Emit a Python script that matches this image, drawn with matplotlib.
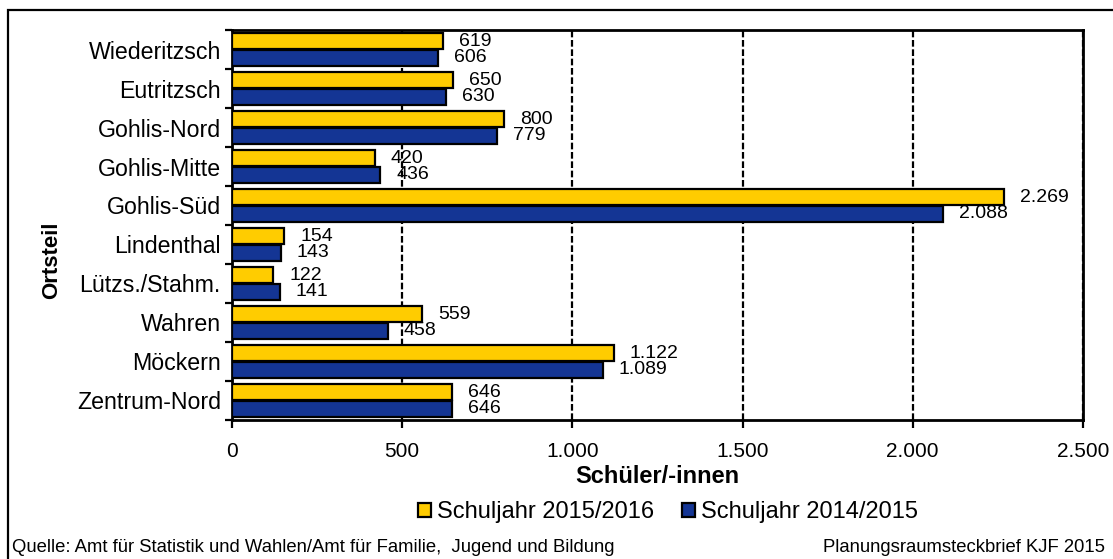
import matplotlib
matplotlib.use("Agg")
import matplotlib.pyplot as plt
from matplotlib.patches import Patch, Rectangle

plt.rcParams["font.family"] = ["Liberation Sans", "DejaVu Sans"]

ORTSTEILE = [
    "Wiederitzsch", "Eutritzsch", "Gohlis-Nord", "Gohlis-Mitte", "Gohlis-Süd",
    "Lindenthal", "Lützs./Stahm.", "Wahren", "Möckern", "Zentrum-Nord",
]
SJ_2015_16 = [619, 650, 800, 420, 2269, 154, 122, 559, 1122, 646]
SJ_2014_15 = [606, 630, 779, 436, 2088, 143, 141, 458, 1089, 646]
X_TICKS = [0, 500, 1000, 1500, 2000, 2500]

YELLOW = "#FFCC00"
BLUE = "#143594"


def de_num(v):
    return f"{v:,}".replace(",", ".")


fig = plt.figure(figsize=(11.13, 5.59), dpi=100)
ax = fig.add_axes([0.2084, 0.2487, 0.7646, 0.6976])

pos = list(range(len(ORTSTEILE)))
h = 0.41
off = 0.21
ax.barh([p - off for p in pos], SJ_2015_16, height=h, color=YELLOW,
        edgecolor="black", linewidth=1.6, zorder=3)
ax.barh([p + off for p in pos], SJ_2014_15, height=h, color=BLUE,
        edgecolor="black", linewidth=1.6, zorder=3)

# value labels right of each bar
for p, v in zip(pos, SJ_2015_16):
    ax.annotate(de_num(v), (v, p - off), xytext=(11.5, 0), textcoords="offset points",
                ha="left", va="center", fontsize=14)
for p, v in zip(pos, SJ_2014_15):
    ax.annotate(de_num(v), (v, p + off), xytext=(11.5, 0), textcoords="offset points",
                ha="left", va="center", fontsize=14)

ax.set_xlim(0, 2500)
ax.set_ylim(len(ORTSTEILE) - 0.5, -0.5)
ax.set_xticks(X_TICKS)
ax.set_xticklabels([de_num(t) for t in X_TICKS], fontsize=15)
ax.set_yticks(pos)
ax.set_yticklabels(ORTSTEILE, fontsize=16.7)
ax.set_yticks([p + 0.5 for p in range(-1, len(ORTSTEILE))], minor=True)
ax.tick_params(axis="y", which="major", length=0, pad=8)
ax.tick_params(axis="y", which="minor", length=5, width=1.6, direction="out")
ax.tick_params(axis="x", length=6, width=1.6, direction="out", pad=10)

ax.grid(axis="x", color="black", linestyle=(0, (3, 1.2)), linewidth=1.6, zorder=1)
for s in ax.spines.values():
    s.set_linewidth(2)
    s.set_color("black")

ax.set_xlabel("Schüler/-innen", fontsize=17, fontweight="bold", labelpad=3)
fig.text(52 / 1113, 1 - 260 / 559, "Ortsteil", rotation=90, fontsize=16,
         fontweight="bold", ha="center", va="center")

handles = [
    Patch(facecolor=YELLOW, edgecolor="black", linewidth=1.6, label="Schuljahr 2015/2016"),
    Patch(facecolor=BLUE, edgecolor="black", linewidth=1.6, label="Schuljahr 2014/2015"),
]
fig.legend(handles=handles, loc="center", bbox_to_anchor=(668 / 1113, 1 - 512 / 559),
           ncol=2, frameon=False, fontsize=17, handlelength=0.53, handleheight=0.53,
           handletextpad=0.25, columnspacing=1.2, borderpad=0, borderaxespad=0)

fig.text(12 / 1113, 1 - 548 / 559,
         "Quelle: Amt für Statistik und Wahlen/Amt für Familie,  Jugend und Bildung",
         fontsize=13.3, ha="left", va="center")
fig.text(1105 / 1113, 1 - 548 / 559, "Planungsraumsteckbrief KJF 2015",
         fontsize=13.3, ha="right", va="center")

fig.patches.append(Rectangle((8 / 1113, -0.1), 1.2, 1.1 - 10 / 559,
                             transform=fig.transFigure, fill=False,
                             edgecolor="black", linewidth=1.6))

fig.savefig("out.png", dpi=100)
